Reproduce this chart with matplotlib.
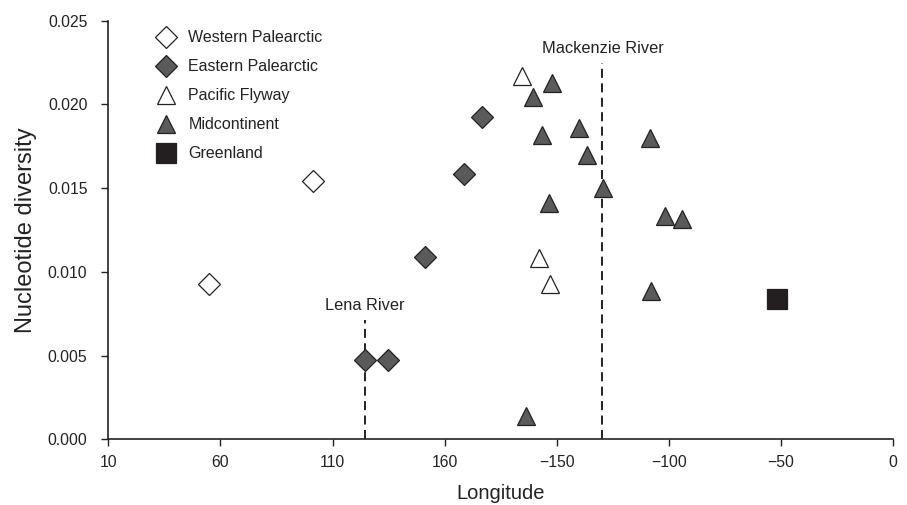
import numpy as np
import matplotlib
matplotlib.use('Agg')
import matplotlib.pyplot as plt

plt.rcParams['font.family'] = ['Liberation Sans', 'DejaVu Sans']

# longitudes in degrees (east positive, west negative) and nucleotide diversity
wp_lon = [54.9, 101.3]
wp_div = [0.00928, 0.01543]

ep_lon = [176.6, 168.8, 151.4, 124.5, 134.6]
ep_div = [0.01927, 0.01584, 0.01091, 0.00474, 0.00474]

pf_lon = [-165.6, -157.9, -153.0]
pf_div = [0.02172, 0.01081, 0.00929]

mc_lon = [-152.2, -160.7, -156.7, -140.2, -136.6, -129.4, -153.3, -108.4,
          -163.7, -101.8, -94.0, -107.8]
mc_div = [0.0213, 0.02044, 0.01816, 0.01857, 0.0170, 0.01501, 0.0141, 0.01801,
          0.00141, 0.01335, 0.01314, 0.00886]

gl_lon = [-51.9]
gl_div = [0.0084]

rivers = ['Lena River', 'Mackenzie River']
river_lon = [124.5, -129.6]
river_top = [0.00713, 0.0225]

xtick_vals = [10, 60, 110, 160, -150, -100, -50, 0]
ytick_vals = [0.000, 0.005, 0.010, 0.015, 0.020, 0.025]


def to_x(lon):
    # longitudes run across the date line, so shift to 0-360
    return np.mod(np.asarray(lon, dtype=float), 360)


def tick_pos(v):
    return v if v > 0 else v + 360


fig = plt.figure(figsize=(9.07, 5.05), dpi=100)
ax = fig.add_axes([0.1194, 0.130, 0.8652, 0.829])

dark = '#5a5a5a'
edge = '#222222'

ax.plot(to_x(wp_lon), wp_div, 'D', ms=10.7, mfc='white', mec=edge, mew=0.9,
        ls='none', label='Western Palearctic')
ax.plot(to_x(ep_lon), ep_div, 'D', ms=10.7, mfc=dark, mec=edge, mew=0.9,
        ls='none', label='Eastern Palearctic')
ax.plot(to_x(pf_lon), pf_div, '^', ms=13.5, mfc='white', mec=edge, mew=0.9,
        ls='none', label='Pacific Flyway')
ax.plot(to_x(mc_lon), mc_div, '^', ms=13.5, mfc=dark, mec=edge, mew=0.9,
        ls='none', label='Midcontinent')
ax.plot(to_x(gl_lon), gl_div, 's', ms=14.0, mfc='#231f20', mec='#231f20', mew=0.9,
        ls='none', label='Greenland')

for name, lon, top in zip(rivers, river_lon, river_top):
    x = to_x(lon)
    ax.plot([x, x], [0, top], color='#111111', lw=1.3, ls=(0, (5, 3)), zorder=1)
    ax.text(x, top + 0.0004, name, ha='center', va='bottom', fontsize=11.8,
            color='#222222')

ax.set_xlim(10, 360)
ax.set_ylim(0, 0.025)
ax.set_xticks([tick_pos(v) for v in xtick_vals])
ax.set_xticklabels([str(v).replace('-', '\u2212') for v in xtick_vals])
ax.set_yticks(ytick_vals)
ax.set_yticklabels(['%.3f' % v for v in ytick_vals])
ax.tick_params(direction='out', length=5, width=1, colors='#222222',
               labelsize=11.3, labelcolor='#222222')
ax.tick_params(axis='x', pad=6)
ax.tick_params(axis='y', pad=10)

for s in ['top', 'right']:
    ax.spines[s].set_visible(False)
for s in ['left', 'bottom']:
    ax.spines[s].set_color('#222222')
    ax.spines[s].set_linewidth(1.2)

ax.set_xlabel('Longitude', fontsize=14.5, color='#222222', labelpad=10)
ax.set_ylabel('Nucleotide diversity', fontsize=17, color='#222222', labelpad=8)

ax.legend(loc='upper left', bbox_to_anchor=(0.045, 1.008), frameon=False,
          fontsize=11.5, handletextpad=0.8, labelspacing=0.88, borderpad=0.3,
          handlelength=1.2, labelcolor='#222222')

fig.savefig('out.png', dpi=100)
